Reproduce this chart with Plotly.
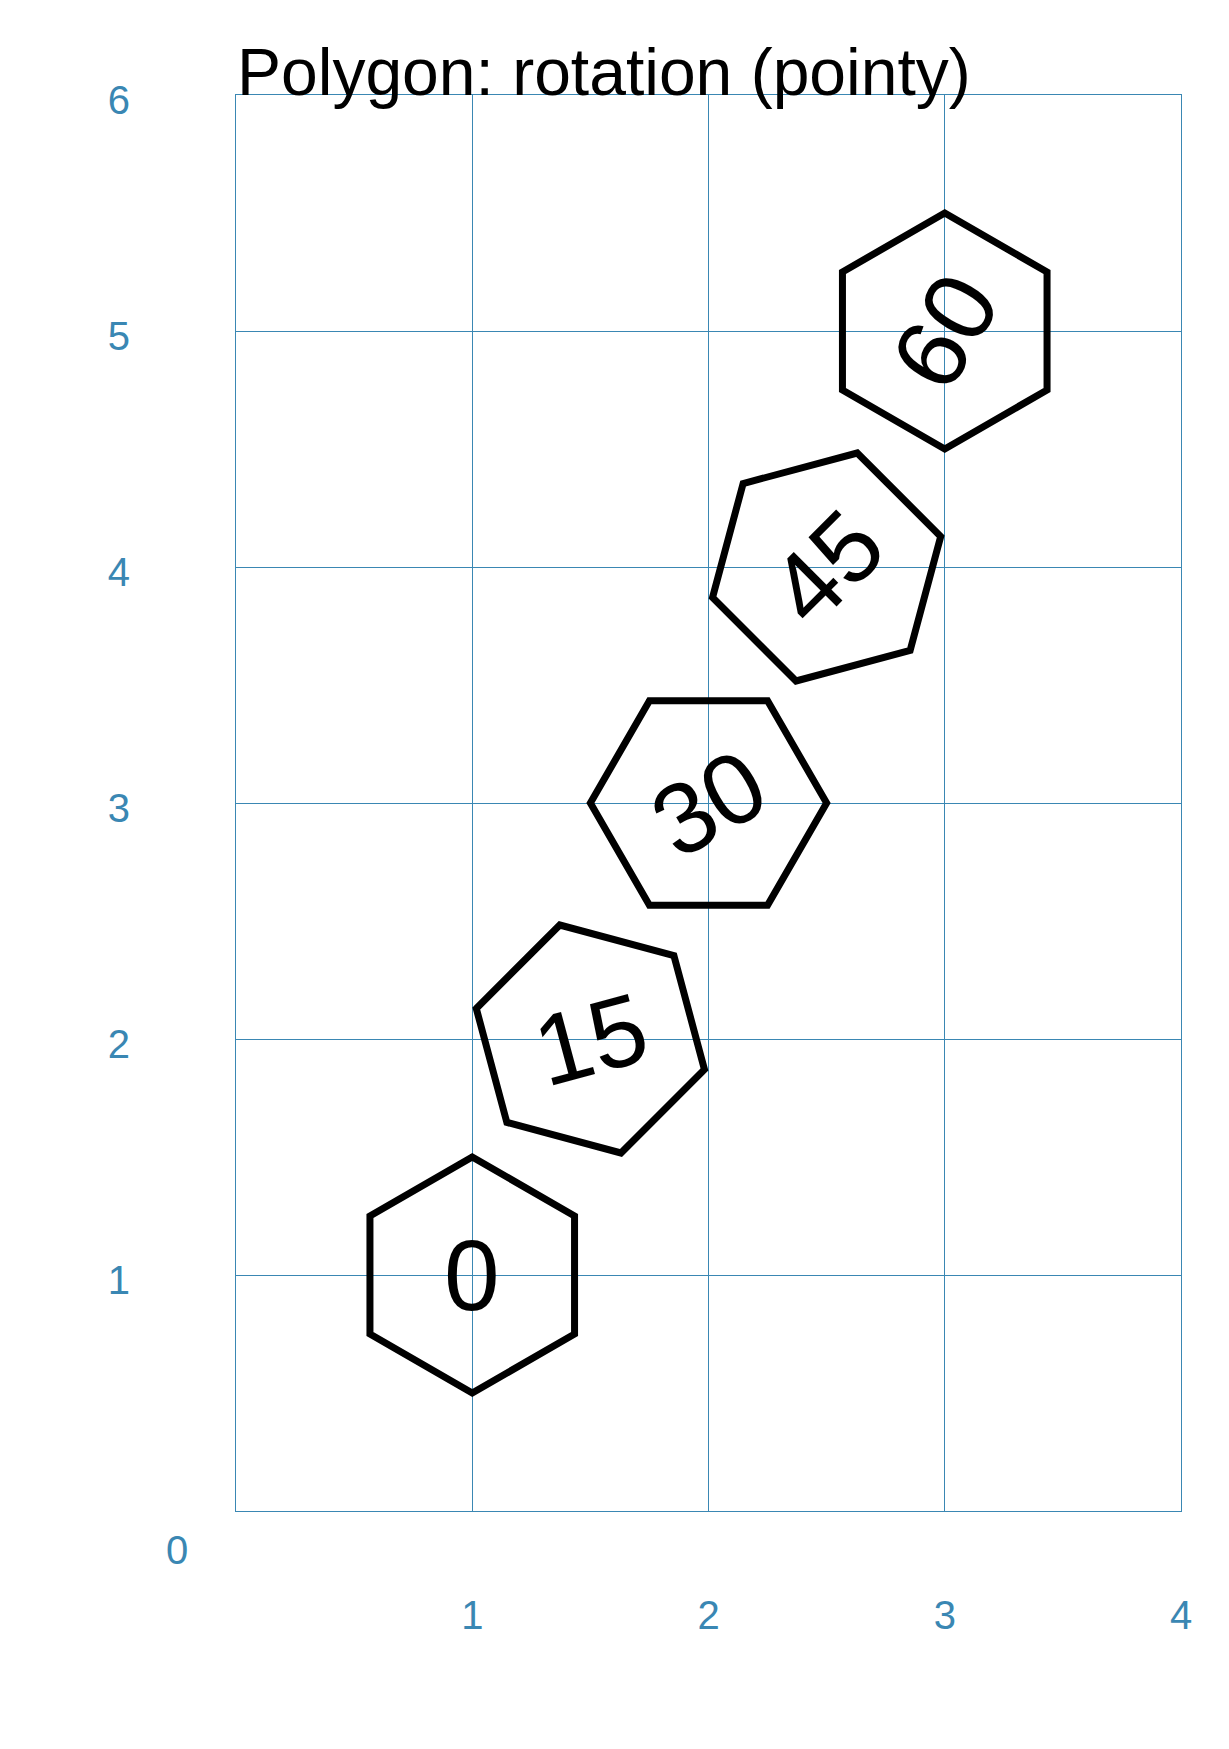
import numpy as np
import plotly.graph_objects as go

# Data
rotations = [0, 15, 30, 45, 60]
labels = ["0", "15", "30", "45", "60"]
center_x = [1, 1.5, 2, 2.5, 3]
center_y = [1, 2, 3, 4, 5]
radius = 0.5
x_ticks = [1, 2, 3, 4]
y_ticks = [1, 2, 3, 4, 5, 6]

GRID = "#3a87b3"
FONT = "Liberation Sans, Arial, sans-serif"

fig = go.Figure()
for rot, cx, cy in zip(rotations, center_x, center_y):
    # 8 vertices so the closing corner is joined like the others
    ang = np.deg2rad(90 + rot + np.arange(8) * 60)
    fig.add_trace(go.Scatter(
        x=cx + radius * np.cos(ang), y=cy + radius * np.sin(ang),
        mode="lines", line=dict(color="black", width=7),
        hoverinfo="skip", showlegend=False,
    ))

for rot, cx, cy, lab in zip(rotations, center_x, center_y, labels):
    fig.add_annotation(x=cx, y=cy, text=lab, showarrow=False, textangle=-rot,
                       font=dict(family=FONT, size=100, color="black"),
                       xanchor="center", yanchor="middle")

fig.add_annotation(x=0, y=0, text="0", showarrow=False, xshift=-59, yshift=-39,
                   font=dict(family=FONT, size=40, color=GRID))

fig.update_layout(
    width=1229, height=1749,
    margin=dict(l=228, r=56, t=87, b=246),
    paper_bgcolor="white", plot_bgcolor="white",
    title=dict(text="Polygon: rotation (pointy)", x=0, xref="paper", xanchor="left",
               y=1, yref="paper", yanchor="bottom", pad=dict(b=0, l=1),
               font=dict(family=FONT, size=66, color="black")),
    xaxis=dict(range=[0, 4], tickvals=x_ticks, ticktext=[str(v) for v in x_ticks],
               showgrid=True, gridcolor=GRID, gridwidth=1, zeroline=False,
               showline=True, linecolor=GRID, linewidth=1, mirror=True,
               ticks="", ticklabelstandoff=69,
               tickfont=dict(family=FONT, size=40, color=GRID)),
    yaxis=dict(range=[0, 6], tickvals=y_ticks, ticktext=[str(v) for v in y_ticks],
               showgrid=True, gridcolor=GRID, gridwidth=1, zeroline=False,
               showline=True, linecolor=GRID, linewidth=1, mirror=True,
               ticks="", ticklabelstandoff=97, ticklabelshift=5,
               tickfont=dict(family=FONT, size=40, color=GRID)),
)

fig.write_html("out.html")
